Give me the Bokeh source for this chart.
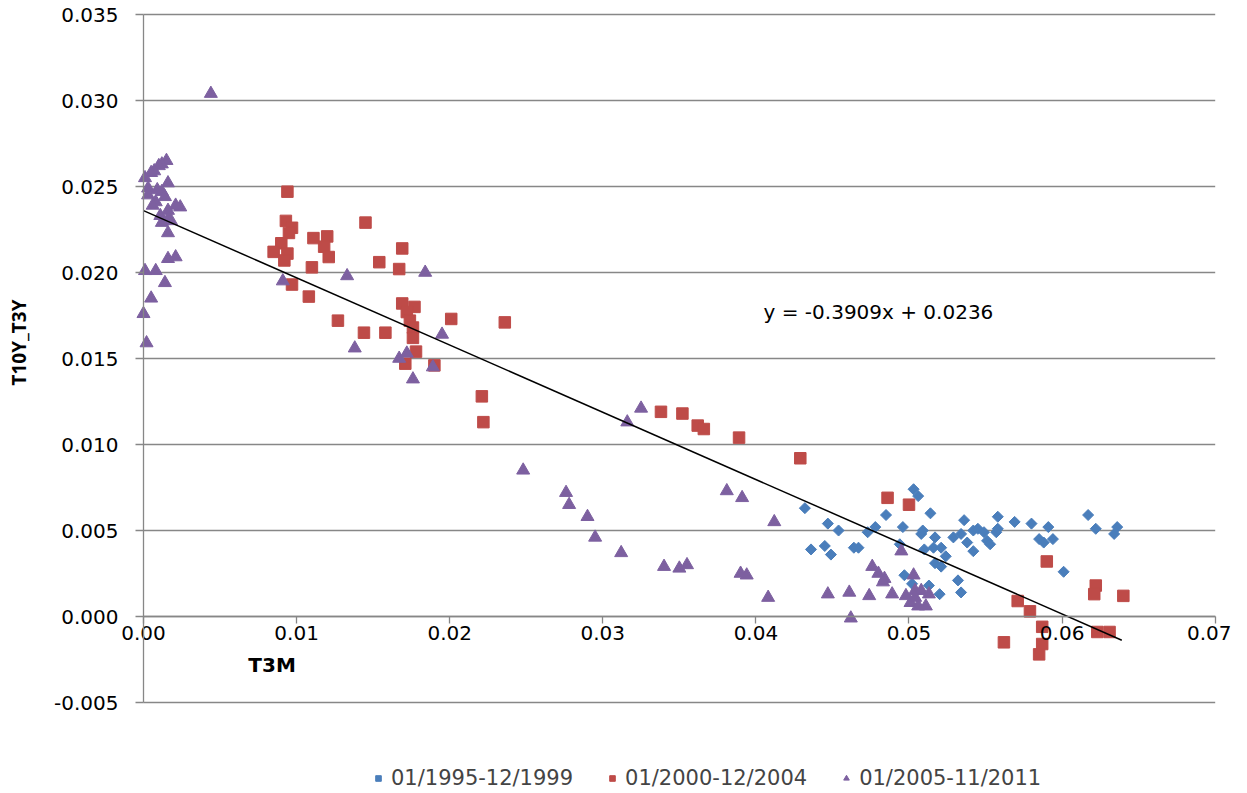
import numpy as np
from bokeh.plotting import figure
from bokeh.models import Range1d, NumeralTickFormatter, FixedTicker, Legend, LegendItem, Label
from bokeh.embed import file_html
from bokeh.resources import INLINE

# ---- data ----
series_names = ["01/1995-12/1999", "01/2000-12/2004", "01/2005-11/2011"]

blue_x = [0.0432, 0.0436, 0.0445, 0.0449, 0.0447, 0.0454, 0.0464, 0.0467, 0.0473, 0.0478,
          0.0485, 0.0494, 0.0496, 0.0497, 0.0502, 0.0503, 0.0506, 0.0508, 0.0509, 0.0510,
          0.0513, 0.0514, 0.0516, 0.0517, 0.0520, 0.0521, 0.0517, 0.0521, 0.0524, 0.0529,
          0.0532, 0.0534, 0.0534, 0.0536, 0.0538, 0.0542, 0.0542, 0.0545, 0.0549, 0.0551,
          0.0553, 0.0557, 0.0558, 0.0558, 0.0569, 0.0580, 0.0585, 0.0588, 0.0591, 0.0594,
          0.0601, 0.0617, 0.0622, 0.0634, 0.0636]
blue_y = [0.0063, 0.0039, 0.0041, 0.0036, 0.0054, 0.0050, 0.0040, 0.0040, 0.0049, 0.0052,
          0.0059, 0.0042, 0.0052, 0.0024, 0.0019, 0.0074, 0.0070, 0.0048, 0.0050, 0.0039,
          0.0018, 0.0060, 0.0040, 0.0046, 0.0013, 0.0040, 0.0031, 0.0029, 0.0035, 0.0046,
          0.0021, 0.0048, 0.0014, 0.0056, 0.0043, 0.0050, 0.0038, 0.0051, 0.0049, 0.0044,
          0.0042, 0.0049, 0.0058, 0.0051, 0.0055, 0.0054, 0.0045, 0.0043, 0.0052, 0.0045,
          0.0026, 0.0059, 0.0051, 0.0048, 0.0052]

red_x = [0.0094, 0.0093, 0.0097, 0.0095, 0.0090, 0.0085, 0.0094, 0.0092, 0.0111, 0.0120,
         0.0118, 0.0121, 0.0110, 0.0145, 0.0169, 0.0154, 0.0167, 0.0097, 0.0108, 0.0127,
         0.0144, 0.0158, 0.0169, 0.0177, 0.0172, 0.0174, 0.0176, 0.0176, 0.0178, 0.0171,
         0.0190, 0.0201, 0.0236, 0.0221, 0.0222, 0.0338, 0.0352, 0.0362, 0.0366, 0.0389,
         0.0429, 0.0486, 0.0500, 0.0590, 0.0571, 0.0579, 0.0587, 0.0562, 0.0587, 0.0585,
         0.0622, 0.0621, 0.0640, 0.0623, 0.0631]
red_y = [0.0247, 0.0230, 0.0226, 0.0223, 0.0217, 0.0212, 0.0211, 0.0207, 0.0220, 0.0221,
         0.0215, 0.0209, 0.0203, 0.0229, 0.0214, 0.0206, 0.0202, 0.0193, 0.0186, 0.0172,
         0.0165, 0.0165, 0.0182, 0.0180, 0.0177, 0.0172, 0.0168, 0.0162, 0.0154, 0.0147,
         0.0146, 0.0173, 0.0171, 0.0128, 0.0113, 0.0119, 0.0118, 0.0111, 0.0109, 0.0104,
         0.0092, 0.0069, 0.0065, 0.0032, 0.0009, 0.0003, -0.0006, -0.0015, -0.0016, -0.0022,
         0.0018, 0.0013, 0.0012, -0.0009, -0.0009]

purple_x = [0.0044, 0.0015, 0.0012, 0.0010, 0.0007, 0.0005, 0.0001, 0.0016, 0.0003, 0.0012,
            0.0009, 0.0003, 0.0008, 0.0014, 0.0024, 0.0021, 0.0016, 0.0011, 0.0006, 0.0016,
            0.0018, 0.0012, 0.0016, 0.0016, 0.0021, 0.0001, 0.0008, 0.0014, 0.0005, 0.0000,
            0.0002, 0.0091, 0.0133, 0.0184, 0.0138, 0.0167, 0.0172, 0.0176, 0.0189, 0.0195,
            0.0325, 0.0316, 0.0248, 0.0276, 0.0278, 0.0290, 0.0295, 0.0312, 0.0340, 0.0350,
            0.0355, 0.0381, 0.0391, 0.0390, 0.0394, 0.0412, 0.0408, 0.0447, 0.0495, 0.0476,
            0.0480, 0.0484, 0.0483, 0.0461, 0.0474, 0.0489, 0.0462, 0.0498, 0.0503, 0.0504,
            0.0508, 0.0513, 0.0501, 0.0506, 0.0511, 0.0504]
purple_y = [0.0304, 0.0265, 0.0263, 0.0262, 0.0259, 0.0258, 0.0255, 0.0252, 0.0249, 0.0247,
            0.0248, 0.0245, 0.0241, 0.0244, 0.0238, 0.0239, 0.0236, 0.0233, 0.0239, 0.0231,
            0.0230, 0.0229, 0.0223, 0.0208, 0.0209, 0.0201, 0.0201, 0.0194, 0.0185, 0.0176,
            0.0159, 0.0195, 0.0198, 0.0200, 0.0156, 0.0150, 0.0153, 0.0138, 0.0145, 0.0164,
            0.0121, 0.0113, 0.0085, 0.0072, 0.0065, 0.0058, 0.0046, 0.0037, 0.0029, 0.0028,
            0.0030, 0.0073, 0.0069, 0.0025, 0.0024, 0.0055, 0.0011, 0.0013, 0.0038, 0.0029,
            0.0025, 0.0022, 0.0020, 0.0014, 0.0012, 0.0013, -0.0001, 0.0012, 0.0024, 0.0015,
            0.0015, 0.0013, 0.0008, 0.0006, 0.0006, 0.0011]

trend_slope = -0.3909
trend_intercept = 0.0236
trend_x = [0.0, 0.0639]
trend_label = "y = -0.3909x + 0.0236"

x_ticks = [0.00, 0.01, 0.02, 0.03, 0.04, 0.05, 0.06, 0.07]
y_ticks = [-0.005, 0.000, 0.005, 0.010, 0.015, 0.020, 0.025, 0.030, 0.035]
x_title = "T3M"
y_title = "T10Y_T3Y"

# ---- figure: frame covers the whole canvas, axes pinned at 0 ----
GRAY = "#878787"
FONT = "DejaVu Sans"
p = figure(width=1231, height=790, output_backend="svg", toolbar_location=None,
           x_range=Range1d(-0.009340, 0.071065), y_range=Range1d(-0.010116, 0.035814),
           min_border_left=0, min_border_right=0, min_border_top=0, min_border_bottom=0)
p.outline_line_color = None
p.background_fill_color = "white"
p.border_fill_color = "white"
p.xgrid.visible = False
p.ygrid.visible = False

# horizontal gridlines between the first and last x tick
n = len(y_ticks)
p.segment(x0=[x_ticks[0]] * n, y0=y_ticks, x1=[x_ticks[-1]] * n, y1=y_ticks,
          line_color=GRAY, line_width=1.3)

for ax, ticks, fmt in ((p.yaxis, y_ticks, "0.000"), (p.xaxis, x_ticks, "0.00")):
    ax.fixed_location = 0
    ax.ticker = FixedTicker(ticks=ticks)
    ax.formatter = NumeralTickFormatter(format=fmt)
    ax.bounds = (ticks[0], ticks[-1])
    ax.axis_line_color = GRAY
    ax.axis_line_width = 1.3
    ax.major_tick_line_color = GRAY
    ax.major_tick_line_width = 1.3
    ax.major_tick_in = 0
    ax.minor_tick_line_color = None
    ax.major_label_text_font = FONT
    ax.major_label_text_font_size = "20px"
    ax.major_label_text_color = "black"
    ax.axis_label = None

p.yaxis.major_tick_out = 8
p.yaxis.major_label_standoff = 17
p.xaxis.major_tick_out = 7
p.xaxis.major_label_standoff = 2

# scatter series
r_blue = p.scatter(blue_x, blue_y, marker="square", angle=np.pi / 4, size=7.8,
                   fill_color="#4A7EBB", line_color="#4A7EBB")
r_red = p.scatter(red_x, red_y, marker="square", size=11.5,
                  fill_color="#BE4B48", line_color="#BE4B48")
r_purple = p.scatter(purple_x, purple_y, marker="triangle", size=13,
                     fill_color="#7D60A0", line_color="#7D60A0")

# trend line
trend_y = [trend_slope * x + trend_intercept for x in trend_x]
p.line(trend_x, trend_y, line_color="black", line_width=1.5)

p.add_layout(Label(x=0.0405, y=0.01773, text=trend_label, text_font=FONT,
                   text_font_size="20px", text_baseline="middle", text_align="left",
                   text_color="black"))
p.add_layout(Label(x=0.0084, y=-0.0028, text=x_title, text_font=FONT,
                   text_font_style="bold", text_font_size="20px", text_baseline="middle",
                   text_align="center", text_color="black"))
p.add_layout(Label(x=-0.00816, y=0.01593, text=y_title, text_font="Open Sans",
                   text_font_style="bold", text_font_size="19px", text_baseline="middle",
                   text_align="center", angle=np.pi / 2, text_color="black"))

legend = Legend(items=[LegendItem(label=series_names[0], renderers=[r_blue]),
                       LegendItem(label=series_names[1], renderers=[r_red]),
                       LegendItem(label=series_names[2], renderers=[r_purple])],
                orientation="horizontal", location=(371, 0))
legend.border_line_color = None
legend.background_fill_alpha = 0
legend.label_text_font = FONT
legend.label_text_font_size = "21px"
legend.glyph_width = 14
legend.glyph_height = 20
legend.spacing = 32
legend.label_standoff = 6
legend.padding = 0
legend.margin = 0
p.add_layout(legend, "center")

open("out.html", "w").write(file_html(p, INLINE))
